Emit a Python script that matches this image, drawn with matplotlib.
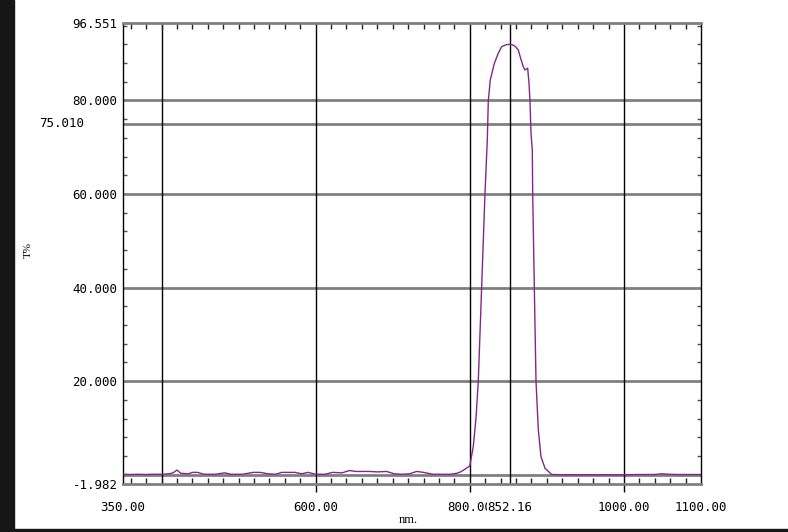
import matplotlib
matplotlib.use("Agg")
import matplotlib.pyplot as plt
from matplotlib.patches import Rectangle
from matplotlib.ticker import FixedLocator

# transmission spectrum
wavelength = [350, 360, 370, 380, 390, 400, 410, 415, 420, 425, 435, 440, 447,
              455, 470, 482, 490, 505, 519, 528, 538, 548, 556, 564, 573, 582,
              590, 600, 612, 622, 634, 644, 652, 662, 670, 680, 692, 702, 712,
              722, 731, 740, 752, 765, 775, 783, 788, 794, 800, 804.5, 808, 811,
              815.4, 819.7, 822.7, 824, 826.6, 831.8, 837, 841.4, 847, 852, 855,
              858.6, 862.9, 866, 869.4, 871.6, 875.1, 876.8, 878.1, 879.4, 881.1,
              881.6, 883.7, 885.9, 888.9, 892.4, 897.6, 906.3, 920, 940, 960,
              980, 1000, 1020, 1040, 1049, 1058, 1070, 1085, 1100]
transmission = [0.1, 0.05, 0.1, 0.05, 0.1, 0.1, 0.2, 0.4, 1.0, 0.3, 0.2, 0.5, 0.5,
                0.1, 0.1, 0.4, 0.1, 0.1, 0.5, 0.5, 0.2, 0.1, 0.5, 0.5, 0.5, 0.2,
                0.5, 0.1, 0.1, 0.5, 0.4, 0.9, 0.7, 0.7, 0.7, 0.6, 0.7, 0.2, 0.1,
                0.2, 0.7, 0.5, 0.1, 0.1, 0.1, 0.3, 0.6, 1.2, 1.9, 6.0, 12.0, 20.0,
                40.2, 60.1, 71.5, 79.9, 84.4, 87.9, 90.1, 91.5, 91.9, 92.0, 91.9,
                91.6, 90.8, 89.0, 87.2, 86.5, 86.9, 83.7, 79.9, 73.0, 69.4,
                60.1, 40.2, 20.0, 9.6, 3.85, 1.37, 0.05, 0.0, 0.0, 0.0,
                0.0, 0.0, 0.05, 0.05, 0.2, 0.1, 0.05, 0.05, 0.05]

y_min, y_max = -1.982, 96.551
x_min, x_max = 350, 1100
x_tick_pos = [350, 600, 800, 852.16, 1000, 1100]
x_tick_txt = ["350.00", "600.00", "800.00", "852.16", "1000.00", "1100.00"]
y_tick_pos = [96.551, 80, 60, 40, 20, y_min]
y_tick_txt = ["96.551", "80.000", "60.000", "40.000", "20.000", "-1.982"]
marker_y = 75.010
vlines_x = [400, 600, 800, 852.16, 1000]
hlines_y = [80, marker_y, 60, 40, 20, 0]

font = "DejaVu Sans Mono"
gray = "#808080"

fig = plt.figure(figsize=(7.88, 5.32), dpi=100)
fig.patches.append(Rectangle((0, 0), 14 / 788, 1, transform=fig.transFigure,
                             color="#161616", zorder=0))
fig.patches.append(Rectangle((0, 0), 1, 3 / 532, transform=fig.transFigure,
                             color="#161616", zorder=0))

ax = fig.add_axes([123 / 788, 1 - 484 / 532, 578 / 788, 461 / 532])
ax.set_xlim(x_min, x_max)
ax.set_ylim(y_min, y_max)

for y in hlines_y:
    ax.axhline(y, color=gray, lw=2, zorder=1)
for x in vlines_x:
    ax.axvline(x, color="black", lw=1, zorder=1)

ax.plot(wavelength, transmission, color="#80288a", lw=1, zorder=3)

for side in ["top", "bottom"]:
    ax.spines[side].set_color(gray)
    ax.spines[side].set_linewidth(2)
for side in ["left", "right"]:
    ax.spines[side].set_color("black")
    ax.spines[side].set_linewidth(1)

ax.set_xticks(x_tick_pos)
ax.set_xticklabels(x_tick_txt, fontfamily=font, fontsize=9)
ax.xaxis.set_minor_locator(FixedLocator(list(range(360, 1100, 20))))
ax.tick_params(axis="x", which="major", direction="out", length=6, width=1,
               color="black", pad=6)
ax.tick_params(axis="x", which="minor", direction="in", length=4, width=1,
               color="#202020", top=True, bottom=True)
for i in [0, 3, 5]:
    ax.xaxis.get_major_ticks()[i].tick1line.set_visible(False)
ax.get_xticklabels()[3].set_bbox(dict(facecolor="white", edgecolor="none", pad=0.5))

ax.set_yticks(y_tick_pos)
ax.set_yticklabels(y_tick_txt, fontfamily=font, fontsize=9)
ax.yaxis.set_minor_locator(FixedLocator(list(range(4, 97, 4))))
ax.tick_params(axis="y", which="major", length=0, pad=4)
ax.tick_params(axis="y", which="minor", direction="in", length=3, width=1,
               color="#505050", left=True, right=True)

ax.text(-0.068, (marker_y - y_min) / (y_max - y_min), "75.010", transform=ax.transAxes,
        ha="right", va="center", fontfamily=font, fontsize=9)
ax.text(0.493, -0.078, "nm.", transform=ax.transAxes, ha="center", va="center",
        fontfamily="Liberation Serif", fontsize=9)
fig.text(28 / 788, 1 - 250 / 532, "T%", rotation=90, ha="center", va="center",
         fontfamily="Liberation Serif", fontsize=8)

fig.savefig("out.png", dpi=100)
